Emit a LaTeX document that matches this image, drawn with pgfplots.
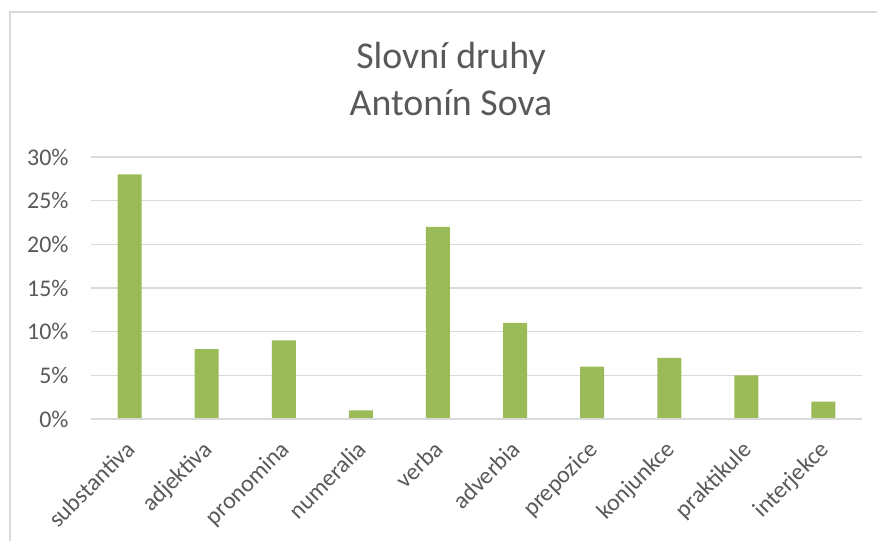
\documentclass[border=0pt]{standalone}
\usepackage{pgfplots}
\pgfplotsset{compat=1.18}
\usepackage{fontspec}
\setmainfont{Carlito}
\definecolor{bargreen}{HTML}{9BBB59}
\definecolor{gridgray}{HTML}{D9D9D9}
\definecolor{textgray}{HTML}{595959}
\pgfplotstableread{
x val
0 28
1 8
2 9
3 1
4 22
5 11
6 6
7 7
8 5
9 2
}\datatable
\begin{document}
\begin{tikzpicture}[x=1bp,y=1bp]
\useasboundingbox (0,0) rectangle (877,541);
\draw[gridgray, line width=1.2bp] (10,0) -- (10,529) -- (877,529);
\node[text=textgray, font=\fontsize{38}{44}\selectfont] at (451,483) {Slovní druhy};
\node[text=textgray, font=\fontsize{38}{44}\selectfont] at (451,438) {Antonín Sova};
\begin{axis}[
  at={(91bp,122bp)}, anchor=south west,
  scale only axis, width=771bp, height=262bp,
  xmin=-0.5, xmax=9.5, ymin=0, ymax=30,
  axis line style={draw=none},
  axis x line*=bottom,
  ytick={0,5,10,15,20,25,30},
  yticklabels={0\%,5\%,10\%,15\%,20\%,25\%,30\%},
  xtick={0,...,9},
  xticklabels={substantiva,adjektiva,pronomina,numeralia,verba,adverbia,prepozice,konjunkce,praktikule,interjekce},
  tick style={draw=none},
  ymajorgrids, grid style={gridgray, line width=1.2bp},
  yticklabel style={text=textgray, font=\fontsize{24}{28}\selectfont, xshift=-19bp},
  xticklabel style={text=textgray, font=\fontsize{24}{28}\selectfont, xshift=-5bp, yshift=-20bp, rotate=45, anchor=north east, inner sep=0pt},
  clip=false,
]
\addplot[ybar, bar width=24bp, fill=bargreen, draw=none] table[x=x,y=val]{\datatable};
\draw[gridgray, line width=1.2bp] (axis cs:-0.5,0) -- (axis cs:9.5,0);
\end{axis}
\end{tikzpicture}
\end{document}
